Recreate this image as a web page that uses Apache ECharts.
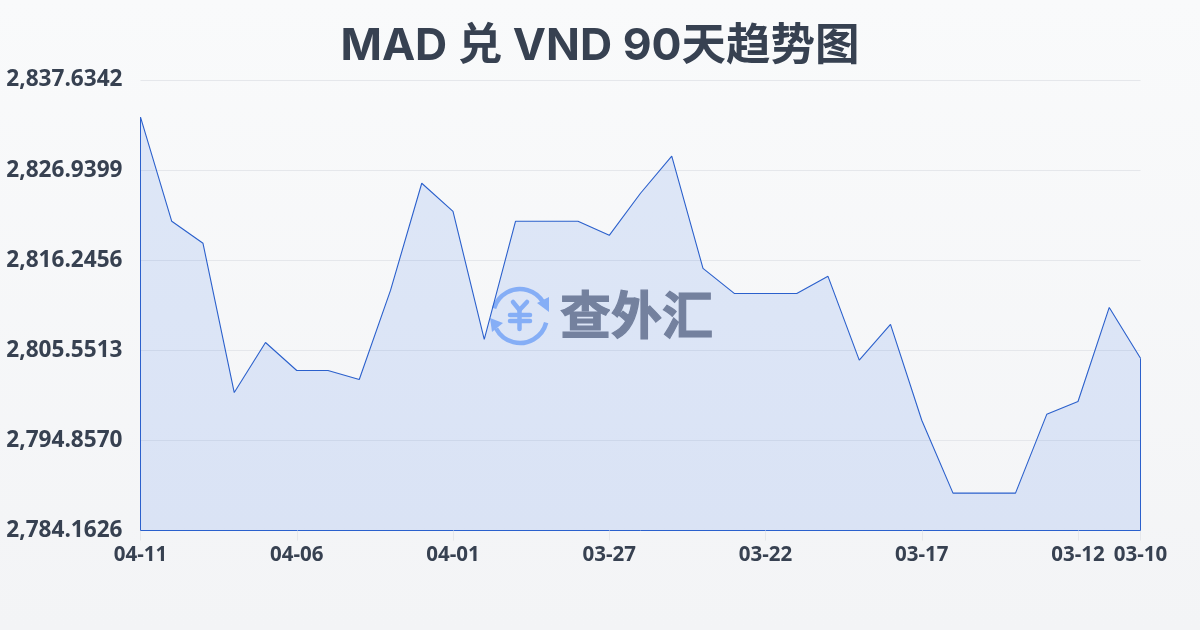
<!DOCTYPE html>
<html><head><meta charset="utf-8">
<style>html,body{margin:0;padding:0;background:#f9fafb}#c{width:1200px;height:630px}</style>
<script src="https://cdn.jsdelivr.net/npm/echarts@6/dist/echarts.min.js"></script>
</head><body><div id="c"></div>
<script>
const titleText = 'MAD 兑 VND 90天趋势图';
const dates = ['04-11','04-10','04-09','04-08','04-07','04-06','04-05','04-04','04-03','04-02','04-01','03-31','03-30','03-29','03-28','03-27','03-26','03-25','03-24','03-23','03-22','03-21','03-20','03-19','03-18','03-17','03-16','03-15','03-14','03-13','03-12','03-11','03-10'];
const rates = [2833.22,2820.86,2818.25,2800.54,2806.48,2803.15,2803.15,2802.08,2812.66,2825.38,2822.05,2806.84,2820.86,2820.86,2820.86,2819.20,2824.19,2828.59,2815.28,2812.30,2812.30,2812.30,2814.33,2804.38,2808.62,2797.25,2788.60,2788.60,2788.60,2797.95,2799.47,2810.64,2804.60];
const yTicks = [2784.1626,2794.8570,2805.5513,2816.2456,2826.9399,2837.6342];
const yMin = yTicks[0], yMax = yTicks[yTicks.length-1];
const shownIdx = i => i % 5 === 0 || i === dates.length-1;
const font = '"Open Sans","Noto Sans","Noto Sans CJK SC",sans-serif';
const chart = echarts.init(document.getElementById('c'),null,{renderer:'canvas'});
const cx=520, cy=316, r=27, logo='#93b8f8', ink='#7f8594', lineColor='#2b60cc';
const logoLine=(points)=>({type:'polyline',shape:{points},style:{stroke:logo,lineWidth:4.5,lineCap:'round',lineJoin:'round',fill:null}});
chart.setOption({
  animation:false,
  backgroundColor:{type:'linear',x:0,y:0,x2:0,y2:1,colorStops:[{offset:0,color:'#f9fafb'},{offset:1,color:'#f3f4f6'}]},
  title:{text:titleText,left:'center',top:19,textStyle:{fontFamily:'Inter,"Noto Sans CJK SC",sans-serif',fontSize:44.5,fontWeight:'bold',color:'#374151'}},
  grid:{left:140.5,right:59.5,top:80,bottom:99.5,containLabel:false},
  xAxis:{type:'category',data:dates,boundaryGap:false,
    axisLine:{show:true,lineStyle:{color:lineColor,width:1}},
    axisTick:{show:true,length:10,alignWithLabel:true,interval:i=>shownIdx(i),lineStyle:{color:'#e5e7eb'}},
    axisLabel:{interval:i=>shownIdx(i),margin:14,hideOverlap:false,color:'#374151',fontFamily:font,fontSize:20.5,fontWeight:'bold'},
    splitLine:{show:false}},
  yAxis:{type:'value',min:yMin,max:yMax,
    axisLine:{show:false},
    axisTick:{show:false,customValues:yTicks},
    axisLabel:{customValues:yTicks,margin:18,color:'#374151',fontFamily:font,fontSize:22.6,fontWeight:'bold',
      formatter:v=>v.toLocaleString('en-US',{minimumFractionDigits:4,maximumFractionDigits:4})},
    splitLine:{show:true,lineStyle:{color:'#e5e7eb',width:1}}},
  series:[{type:'line',data:rates,symbol:'none',smooth:false,
    lineStyle:{color:lineColor,width:1.1},
    areaStyle:{color:'rgba(40,100,230,0.18)'},
    markLine:{silent:true,symbol:'none',label:{show:false},lineStyle:{color:lineColor,width:1,type:'solid'},
      data:[[{xAxis:dates[0],yAxis:yMin},{xAxis:dates[0],yAxis:rates[0]}],
            [{xAxis:dates[dates.length-1],yAxis:yMin},{xAxis:dates[dates.length-1],yAxis:rates[rates.length-1]}]]}
  }],
  graphic:[{type:'group',silent:true,z:100,children:[
    {type:'arc',shape:{cx,cy,r,startAngle:-2.86,endAngle:-0.54},style:{stroke:logo,lineWidth:4.5,fill:null}},
    {type:'arc',shape:{cx,cy,r,startAngle:0.25,endAngle:2.66},style:{stroke:logo,lineWidth:4.5,fill:null}},
    {type:'polygon',shape:{points:[[537,303],[549,297],[549,312]]},style:{fill:logo}},
    {type:'polygon',shape:{points:[[490,318],[503,323],[492,332]]},style:{fill:logo}},
    logoLine([[513,302],[519.5,310],[527,302]]),
    logoLine([[510,315],[530,315]]),
    logoLine([[510,321],[530,321]]),
    logoLine([[519.5,310],[519.5,329]]),
    {type:'text',style:{text:'查外汇',x:560,y:315,verticalAlign:'middle',fill:ink,stroke:ink,lineWidth:1.2,font:'bold 51px "Noto Sans CJK SC"'}}
  ]}]
});
</script></body></html>
